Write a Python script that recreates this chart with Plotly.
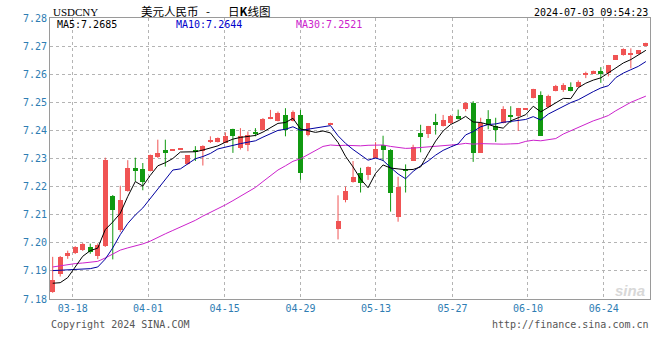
import plotly.graph_objects as go

# ---------------- data ----------------
TICK_LABELS = ["03-18", "04-01", "04-15", "04-29", "05-13", "05-27", "06-10", "06-24"]
TICK_POS = [2.66, 12.70, 22.90, 33.00, 43.05, 53.25, 63.30, 73.40]
Y_TICKS = [7.18, 7.19, 7.20, 7.21, 7.22, 7.23, 7.24, 7.25, 7.26, 7.27, 7.28]

OPEN = [7.1825, 7.1888, 7.1954, 7.1963, 7.1975, 7.1986, 7.1954, 7.1987, 7.2168, 7.2046,
        7.2184, 7.2267, 7.2261, 7.2255, 7.2305, 7.2329, 7.2328, 7.2331, 7.2279, 7.2332,
        7.2326, 7.2358, 7.2358, 7.2355, 7.2405, 7.2338, 7.2349, 7.2393, 7.2402, 7.2444,
        7.2435, 7.2455, 7.2432, 7.2455, 7.2385, None, None, 7.2422, 7.2049, 7.2153,
        7.2216, 7.2249, 7.2240, 7.2302, 7.2349, 7.2332, 7.2091, 7.2264, 7.2291, 7.2391,
        7.2388, 7.2429, 7.2414, 7.2425, 7.2451, 7.2476, 7.2498, 7.2321, 7.2439, 7.2415,
        7.2425, 7.2456, 7.2451, 7.2474, 7.2515, 7.2527, 7.2484, 7.2542, 7.2545, 7.2554,
        7.2555, 7.2598, 7.2602, 7.2611, 7.2603, 7.2651, 7.2668, 7.2670, 7.2672, 7.2699]
HIGH = [7.1950, 7.1953, 7.1972, 7.1988, 7.1999, 7.1997, 7.1998, 7.2303, 7.2170, 7.2203,
        7.2294, 7.2303, 7.2284, 7.2314, 7.2367, 7.2367, 7.2332, 7.2335, 7.2312, 7.2344,
        7.2347, 7.2379, 7.2375, 7.2393, 7.2406, 7.2408, 7.2396, 7.2408, 7.2444, 7.2473,
        7.2467, 7.2479, 7.2471, 7.2473, 7.2426, None, None, 7.2427, 7.2169, 7.2200,
        7.2291, 7.2267, 7.2272, 7.2358, 7.2381, 7.2333, 7.2235, 7.2279, 7.2349, 7.2420,
        7.2416, 7.2459, 7.2455, 7.2455, 7.2474, 7.2500, 7.2504, 7.2445, 7.2472, 7.2445,
        7.2486, 7.2486, 7.2480, 7.2478, 7.2548, 7.2539, 7.2527, 7.2562, 7.2568, 7.2571,
        7.2578, 7.2609, 7.2613, 7.2625, 7.2633, 7.2668, 7.2692, 7.2692, 7.2686, 7.2712]
LOW = [7.1822, 7.1880, 7.1943, 7.1960, 7.1971, 7.1961, 7.1942, 7.1985, 7.1941, 7.2038,
       7.2182, 7.2219, 7.2187, 7.2254, 7.2302, 7.2271, 7.2328, 7.2331, 7.2278, 7.2291,
       7.2275, 7.2355, 7.2357, 7.2355, 7.2320, 7.2332, 7.2326, 7.2379, 7.2402, 7.2440,
       7.2432, 7.2379, 7.2432, 7.2224, 7.2379, None, None, 7.2422, 7.2012, 7.2144,
       7.2214, 7.2179, 7.2224, 7.2302, 7.2291, 7.2111, 7.2075, 7.2179, 7.2291, 7.2322,
       7.2373, 7.2385, 7.2414, 7.2423, 7.2439, 7.2468, 7.2288, 7.2321, 7.2404, 7.2359,
       7.2425, 7.2427, 7.2398, 7.2474, 7.2514, 7.2380, 7.2480, 7.2539, 7.2537, 7.2539,
       7.2554, 7.2586, 7.2601, 7.2569, 7.2592, 7.2651, 7.2666, 7.2621, 7.2672, 7.2699]
CLOSE = [7.1867, 7.1948, 7.1965, 7.1985, 7.1996, 7.1966, 7.1992, 7.2296, 7.2118, 7.2152,
         7.2267, 7.2255, 7.2216, 7.2312, 7.2320, 7.2320, 7.2331, 7.2334, 7.2311, 7.2326,
         7.2346, 7.2367, 7.2373, 7.2379, 7.2379, 7.2379, 7.2385, 7.2388, 7.2440, 7.2449,
         7.2461, 7.2402, 7.2464, 7.2249, 7.2426, None, None, 7.2426, 7.2079, 7.2185,
         7.2235, 7.2212, 7.2271, 7.2334, 7.2332, 7.2179, 7.2200, 7.2255, 7.2341, 7.2376,
         7.2414, 7.2422, 7.2438, 7.2453, 7.2441, 7.2498, 7.2321, 7.2425, 7.2418, 7.2401,
         7.2476, 7.2448, 7.2480, 7.2477, 7.2547, 7.2380, 7.2524, 7.2559, 7.2562, 7.2539,
         7.2574, 7.2606, 7.2613, 7.2601, 7.2631, 7.2668, 7.2689, 7.2672, 7.2686, 7.2712]

MA5 = [7.1856, 7.1858, 7.1876, 7.1912, 7.1952, 7.1972, 7.1981, 7.2047, 7.2074, 7.2105,
       7.2165, 7.2218, 7.2202, 7.2240, 7.2274, 7.2285, 7.2300, 7.2323, 7.2323, 7.2324,
       7.2330, 7.2337, 7.2345, 7.2358, 7.2369, 7.2375, 7.2379, 7.2382, 7.2394, 7.2408,
       7.2425, 7.2428, 7.2443, 7.2405, 7.2400, 7.2393, 7.2398, 7.2391, 7.2357, 7.2308,
       7.2270, 7.2227, 7.2196, 7.2247, 7.2277, 7.2266, 7.2263, 7.2260, 7.2261, 7.2270,
       7.2317, 7.2362, 7.2398, 7.2421, 7.2434, 7.2450, 7.2430, 7.2428, 7.2421, 7.2413,
       7.2408, 7.2434, 7.2445, 7.2456, 7.2486, 7.2466, 7.2482, 7.2497, 7.2514, 7.2513,
       7.2552, 7.2568, 7.2579, 7.2587, 7.2605, 7.2624, 7.2640, 7.2652, 7.2669, 7.2685]
MA10 = [7.1901, 7.1902, 7.1905, 7.1906, 7.1907, 7.1908, 7.1914, 7.1942, 7.1982, 7.2029,
        7.2069, 7.2099, 7.2124, 7.2157, 7.2189, 7.2225, 7.2259, 7.2263, 7.2282, 7.2299,
        7.2307, 7.2318, 7.2334, 7.2341, 7.2347, 7.2353, 7.2358, 7.2363, 7.2376, 7.2389,
        7.2400, 7.2404, 7.2413, 7.2400, 7.2404, 7.2409, 7.2413, 7.2417, 7.2381, 7.2354,
        7.2332, 7.2313, 7.2294, 7.2302, 7.2293, 7.2268, 7.2245, 7.2228, 7.2254, 7.2274,
        7.2291, 7.2312, 7.2329, 7.2341, 7.2352, 7.2384, 7.2396, 7.2413, 7.2421, 7.2423,
        7.2429, 7.2432, 7.2436, 7.2439, 7.2449, 7.2437, 7.2458, 7.2471, 7.2485, 7.2499,
        7.2509, 7.2525, 7.2538, 7.2551, 7.2559, 7.2588, 7.2604, 7.2616, 7.2628, 7.2645]
MA30 = [7.1914, 7.1918, 7.1924, 7.1926, 7.1928, 7.1930, 7.1934, 7.1946, 7.1960, 7.1974,
        7.1982, 7.1989, 7.1996, 7.2006, 7.2020, 7.2032, 7.2044, 7.2056, 7.2068, 7.2080,
        7.2095, 7.2108, 7.2122, 7.2135, 7.2150, 7.2165, 7.2180, 7.2197, 7.2218, 7.2239,
        7.2259, 7.2274, 7.2290, 7.2299, 7.2313, 7.2329, 7.2343, 7.2348, 7.2346, 7.2347,
        7.2346, 7.2345, 7.2347, 7.2347, 7.2348, 7.2343, 7.2339, 7.2336, 7.2337, 7.2339,
        7.2341, 7.2343, 7.2345, 7.2348, 7.2350, 7.2354, 7.2351, 7.2353, 7.2352, 7.2350,
        7.2351, 7.2352, 7.2353, 7.2361, 7.2365, 7.2363, 7.2366, 7.2371, 7.2387, 7.2399,
        7.2410, 7.2423, 7.2434, 7.2443, 7.2453, 7.2470, 7.2486, 7.2500, 7.2511, 7.2522]

MA_LAST = {"MA5": "7.2685", "MA10": "7.2644", "MA30": "7.2521"}

# ---------------- styles ----------------
RED = "#f05454"
GREEN = "#119911"
C_MA5 = "#000000"
C_MA10 = "#0000a0"
C_MA30 = "#cc22cc"
AXIS_BLUE = "#2e7db3"
MONO = "DejaVu Sans Mono"

W, H = 660, 360
L, R, T, B = 50, 10, 18, 61
PW, PH = W - L - R, H - T - B


def px(x):
    return (x - L) / PW


def py(y):
    return (H - B - y) / PH


idx = list(range(len(CLOSE)))
fig = go.Figure()

# bodies
bx, bbase, bh, bcol = [], [], [], []
wick = {RED: ([], []), GREEN: ([], [])}
for i in idx:
    o, h, l, c = OPEN[i], HIGH[i], LOW[i], CLOSE[i]
    if c is None:
        continue
    col = RED if c >= o else GREEN
    bx.append(i)
    bbase.append(min(o, c))
    bh.append(max(abs(c - o), 0.00035))
    bcol.append(col)
    wx, wy = wick[col]
    wx += [i, i, None]
    wy += [l, h, None]

for col, (wx, wy) in wick.items():
    fig.add_trace(go.Scatter(x=wx, y=wy, mode="lines", line=dict(color=col, width=1),
                             hoverinfo="skip", showlegend=False))

fig.add_trace(go.Bar(x=bx, base=bbase, y=bh, width=0.66, marker=dict(color=bcol, line=dict(width=0)),
                     showlegend=False))

for name, vals, col in [("MA30", MA30, C_MA30), ("MA10", MA10, C_MA10), ("MA5", MA5, C_MA5)]:
    fig.add_trace(go.Scatter(x=idx, y=vals, mode="lines", line=dict(color=col, width=1),
                             name=name, showlegend=False))

grid = dict(showgrid=True, gridcolor="#b4b4b4", griddash="dot", gridwidth=1)

fig.update_layout(
    width=W, height=H, margin=dict(l=L, r=R, t=T, b=B),
    paper_bgcolor="white", plot_bgcolor="white", bargap=0,
    xaxis=dict(range=[-0.36, 79.55], tickvals=TICK_POS, ticktext=TICK_LABELS,
               tickfont=dict(family=MONO, size=10, color=AXIS_BLUE), ticks="", zeroline=False,
               showline=True, linecolor="#9a9a9a", mirror=True, fixedrange=True, **grid),
    yaxis=dict(range=[7.18, 7.28], tickvals=Y_TICKS, tickformat=".2f",
               tickfont=dict(family=MONO, size=10, color=AXIS_BLUE), ticks="", zeroline=False,
               showline=True, linecolor="#9a9a9a", mirror=True, fixedrange=True, **grid),
    showlegend=False,
)

ann = []


def text(x, y, s, color="#000", size=10, family=MONO, anchor="left", **kw):
    ann.append(dict(x=px(x), y=py(y), xref="paper", yref="paper", text=s, showarrow=False,
                    xanchor=anchor, yanchor="middle", font=dict(family=family, size=size, color=color), **kw))


CJK = "Noto Sans CJK SC"
text(51, 12, "USDCNY", size=11, family="Liberation Serif")
text(139, 11, "美元人民币", size=11.5, family=CJK)
text(208, 11, "-", size=11.5, family=CJK, anchor="center")
text(226, 11, "日<b>K</b>线图", size=11.5, family=CJK)
text(650, 12, "2024-07-03 09:54:23", anchor="right")
text(55, 24, "MA5:" + MA_LAST["MA5"], color=C_MA5)
text(174, 24, "MA10:" + MA_LAST["MA10"], color="#0000cc")
text(294, 24, "MA30:" + MA_LAST["MA30"], color=C_MA30)
text(49, 324, "Copyright 2024 SINA.COM", color="#555555")
text(651, 324, "http://finance.sina.com.cn", color="#555555", anchor="right")
text(647, 290, "<b><i>sina</i></b>", color="#d8d8d8", size=15, family="Liberation Sans", anchor="right")
fig.update_layout(annotations=ann)

fig.write_html("out.html")
